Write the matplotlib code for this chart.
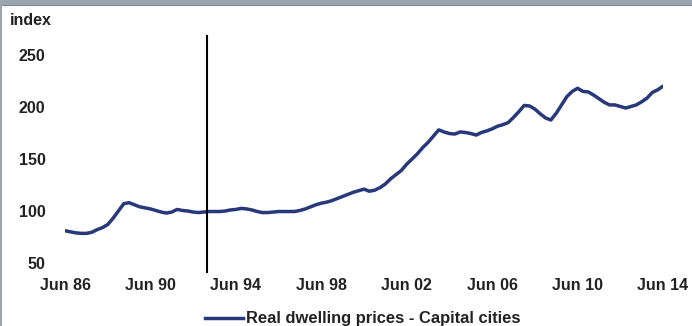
import matplotlib
matplotlib.use("Agg")
import matplotlib.pyplot as plt
from matplotlib.patches import Rectangle
from matplotlib.lines import Line2D

# Quarterly index, Jun 86 .. Jun 14
values = [
    81, 80, 79, 78.5, 78.5, 79.5, 82, 84, 87, 93,
    100, 107, 108, 106, 104, 103, 102, 100.5, 99, 98,
    99, 101.5, 100.5, 100, 99, 98.5, 99, 99.5, 99.5, 99.5,
    100, 101, 101.5, 102.5, 102, 101, 99.5, 98.5, 98.5, 99,
    99.5, 99.5, 99.5, 99.5, 100.5, 102, 104, 106, 107.5, 108.5,
    110, 112, 114, 116, 118, 119.5, 121, 119, 120, 122.5,
    126, 131, 135, 139, 145, 150, 155, 161, 166, 172,
    178, 176, 174.5, 174, 176, 175.5, 174.5, 173, 175.5, 177,
    179, 181.5, 183, 185, 190, 195.5, 201.5, 201, 198, 193.5,
    189.5, 187.5, 194, 202, 210, 215, 218, 215, 214.5, 211.5,
    208, 204.5, 202, 202, 200.5, 199, 200.5, 202, 205, 208.5,
    214, 216.5, 220,
]
tick_labels = ["Jun 86", "Jun 90", "Jun 94", "Jun 98", "Jun 02", "Jun 06", "Jun 10", "Jun 14"]
tick_positions = [0, 16, 32, 48, 64, 80, 96, 112]
y_ticks = [50, 100, 150, 200, 250]
event_quarter = 26.6  # vertical marker (early 1993)
series_label = "Real dwelling prices - Capital cities"

W, H = 692, 326
fig = plt.figure(figsize=(W / 100, H / 100), dpi=100)
fig.patch.set_facecolor("white")

FONT = "Liberation Sans"
FS = 11.5
navy = "#27397a"

left, right = 65 / W, 663 / W
bottom, top = 1 - 263 / H, 1 - 55 / H
ax = fig.add_axes([left, bottom, right - left, top - bottom])
ax.set_facecolor("none")

x = list(range(len(values)))
ax.plot(x, values, color=navy, lw=2.5, solid_capstyle="round", solid_joinstyle="round", zorder=3)

ax.set_xlim(0, 112)
ax.set_ylim(50, 250)
for s in ax.spines.values():
    s.set_visible(False)
ax.set_yticks(y_ticks)
ax.set_yticklabels([str(v) for v in y_ticks], fontfamily=FONT, fontweight="bold", fontsize=FS, color="#222222")
ax.set_xticks(tick_positions)
ax.set_xticklabels(tick_labels, fontfamily=FONT, fontweight="bold", fontsize=FS, color="#222222")
ax.tick_params(axis="y", length=0, pad=14)
ax.tick_params(axis="x", length=0, pad=10.5)

# vertical marker line (extends beyond axes)
y0, y1 = 50, 250
pix_per_unit = (263 - 55) / 200
ax.plot([event_quarter, event_quarter],
        [y1 + (55 - 36) / pix_per_unit, y0 - (272 - 263) / pix_per_unit],
        color="black", lw=1.5, clip_on=False, zorder=4)

# "index" label
fig.text(10 / W, 1 - 25 / H, "index", fontfamily=FONT, fontweight="bold", fontsize=FS,
         color="#222222", ha="left", va="baseline")

# legend
fig.add_artist(Line2D([205 / W, 243 / W], [1 - 318 / H, 1 - 318 / H], color=navy, lw=2.5,
                      transform=fig.transFigure))
fig.text(246 / W, 1 - 318 / H, series_label, fontfamily=FONT, fontweight="bold", fontsize=11.9,
         color="#222222", ha="left", va="center")

# frame: top gray bar and left border
fig.add_artist(Rectangle((0, 1 - 5 / H), 1, 5 / H, transform=fig.transFigure,
                         facecolor="#9aa6ae", edgecolor="none"))
fig.add_artist(Rectangle((0, 1 - 6 / H), 1, 1 / H, transform=fig.transFigure,
                         facecolor="#7f8a92", edgecolor="none"))
fig.add_artist(Rectangle((0, 0), 2 / W, 1, transform=fig.transFigure,
                         facecolor="#9aa6ae", edgecolor="none"))

fig.savefig("out.png", dpi=100, facecolor="white")
